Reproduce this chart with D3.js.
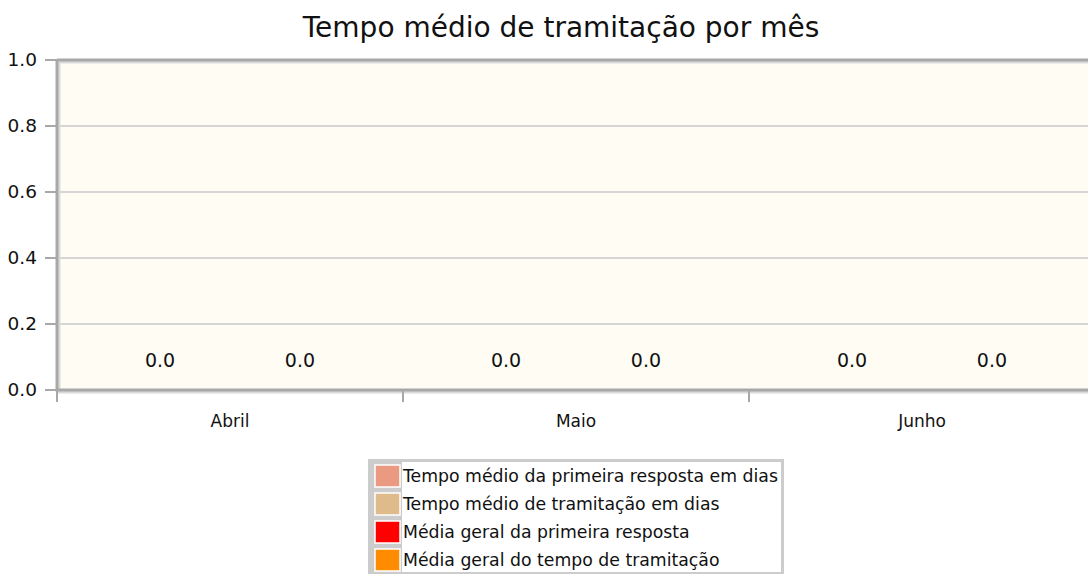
<!DOCTYPE html>
<html>
<head>
<meta charset="utf-8">
<script src="https://cdn.jsdelivr.net/npm/d3@7"></script>
<style>
  body { margin: 0; background: #fff; }
  text { font-family: "DejaVu Sans", sans-serif; fill: #111; }
</style>
</head>
<body>
<main></main>
<script>
// data
const months = ["Abril", "Maio", "Junho"];
const barSeries = ["Tempo médio da primeira resposta em dias", "Tempo médio de tramitação em dias"];
const lineSeries = ["Média geral da primeira resposta", "Média geral do tempo de tramitação"];
const primeiraResposta = [0, 0, 0];
const tramitacao = [0, 0, 0];
const mediaPrimeira = [0, 0, 0];
const mediaTramitacao = [0, 0, 0];
const yTicks = [0, 0.2, 0.4, 0.6, 0.8, 1.0];
const colors = ["#ea9a80", "#dfbb8b", "#ff0000", "#ff8c00"];

const w = 1088, h = 575;
const m = { left: 57, right: 1095, top: 60, bottom: 390 };

const svg = d3.select("main").append("svg").attr("width", w).attr("height", h);

//Title
svg.append("text")
   .attr("x", 561).attr("y", 37)
   .attr("text-anchor", "middle")
   .style("font-size", "28px")
   .text("Tempo médio de tramitação por mês");

//Scales
const x = d3.scaleBand().domain(months).range([m.left, m.right]);
const xs = d3.scaleBand().domain(barSeries).range([0, x.bandwidth()]).paddingInner(0.2).paddingOuter(0.336);
const y = d3.scaleLinear().domain([0, 1]).range([m.bottom, m.top]);

//Plot background
svg.append("rect")
   .attr("x", m.left).attr("y", m.top)
   .attr("width", m.right - m.left).attr("height", m.bottom - m.top)
   .attr("fill", "#fffcf4");

//Grid
svg.append("g").selectAll("line")
   .data(yTicks.filter(d => d > 0 && d < 1))
   .enter().append("line")
   .attr("x1", m.left).attr("x2", m.right)
   .attr("y1", d => y(d)).attr("y2", d => y(d))
   .attr("stroke", "#d6d6d6").attr("stroke-width", 2);

//Bars
const rows = months.map((mo, i) => ({ month: mo, vals: [primeiraResposta[i], tramitacao[i]] }));
const groups = svg.append("g").selectAll("g")
   .data(rows).enter().append("g")
   .attr("transform", d => "translate(" + x(d.month) + ",0)");

groups.selectAll("rect")
   .data(d => d.vals.map((v, j) => ({ key: barSeries[j], v: v, j: j })))
   .enter().append("rect")
   .attr("x", d => xs(d.key)).attr("width", xs.bandwidth())
   .attr("y", d => y(d.v)).attr("height", d => y(0) - y(d.v))
   .attr("fill", d => colors[d.j]);

groups.selectAll("text")
   .data(d => d.vals.map((v, j) => ({ key: barSeries[j], v: v })))
   .enter().append("text")
   .attr("x", d => xs(d.key) + xs.bandwidth() / 2)
   .attr("y", d => y(d.v) - 23)
   .attr("text-anchor", "middle")
   .style("font-size", "19px")
   .text(d => d3.format(".1f")(d.v));

//Average lines
const line = d3.line().x((d, i) => x(months[i]) + x.bandwidth() / 2).y(d => y(d));
[mediaPrimeira, mediaTramitacao].forEach((s, k) => {
  svg.append("path").attr("d", line(s))
     .attr("fill", "none").attr("stroke", colors[k + 2]).attr("stroke-width", 2);
});

//Frame (axes with shadow)
const frame = svg.append("g");
frame.append("path")
   .attr("d", `M${m.left + 2},${m.top + 2}H${w}M${m.left + 2},${m.top + 2}V${m.bottom + 2}H${w}`)
   .attr("fill", "none").attr("stroke", "#dadada").attr("stroke-width", 3);
frame.append("path")
   .attr("d", `M${m.left},${m.top}H${w}M${m.left},${m.top}V${m.bottom}H${w}`)
   .attr("fill", "none").attr("stroke", "#a8a8a8").attr("stroke-width", 3);

//Y axis
const yAxis = svg.append("g");
yAxis.selectAll("line").data(yTicks).enter().append("line")
   .attr("x1", 45).attr("x2", m.left)
   .attr("y1", d => y(d)).attr("y2", d => y(d))
   .attr("stroke", "#a8a8a8").attr("stroke-width", 2);
yAxis.selectAll("text").data(yTicks).enter().append("text")
   .attr("x", 37).attr("y", d => y(d) + 6)
   .attr("text-anchor", "end")
   .style("font-size", "18.5px")
   .text(d => d3.format(".1f")(d));

//X axis
const xTicks = months.map(d => x(d)).concat([m.right]);
svg.append("g").selectAll("line").data(xTicks).enter().append("line")
   .attr("x1", d => d).attr("x2", d => d)
   .attr("y1", m.bottom).attr("y2", m.bottom + 12)
   .attr("stroke", "#a8a8a8").attr("stroke-width", 2);
svg.append("g").selectAll("text").data(months).enter().append("text")
   .attr("x", d => x(d) + x.bandwidth() / 2).attr("y", 427)
   .attr("text-anchor", "middle")
   .style("font-size", "17px")
   .text(d => d);

//Legend
const legend = svg.append("g").attr("transform", "translate(368,459)");
legend.append("rect").attr("width", 416).attr("height", 115).attr("fill", "#cccccc");
legend.append("rect").attr("x", 34).attr("y", 3).attr("width", 379).attr("height", 110).attr("fill", "#fff");
const items = barSeries.concat(lineSeries);
items.forEach((t, i) => {
  legend.append("rect")
     .attr("x", 7).attr("y", 6 + i * 28).attr("width", 25).attr("height", 22)
     .attr("fill", colors[i]).attr("stroke", "#fff").attr("stroke-width", 1.5);
  legend.append("text")
     .attr("x", 35).attr("y", 23 + i * 28)
     .style("font-size", "17.3px")
     .text(t);
});
</script>
</body>
</html>
